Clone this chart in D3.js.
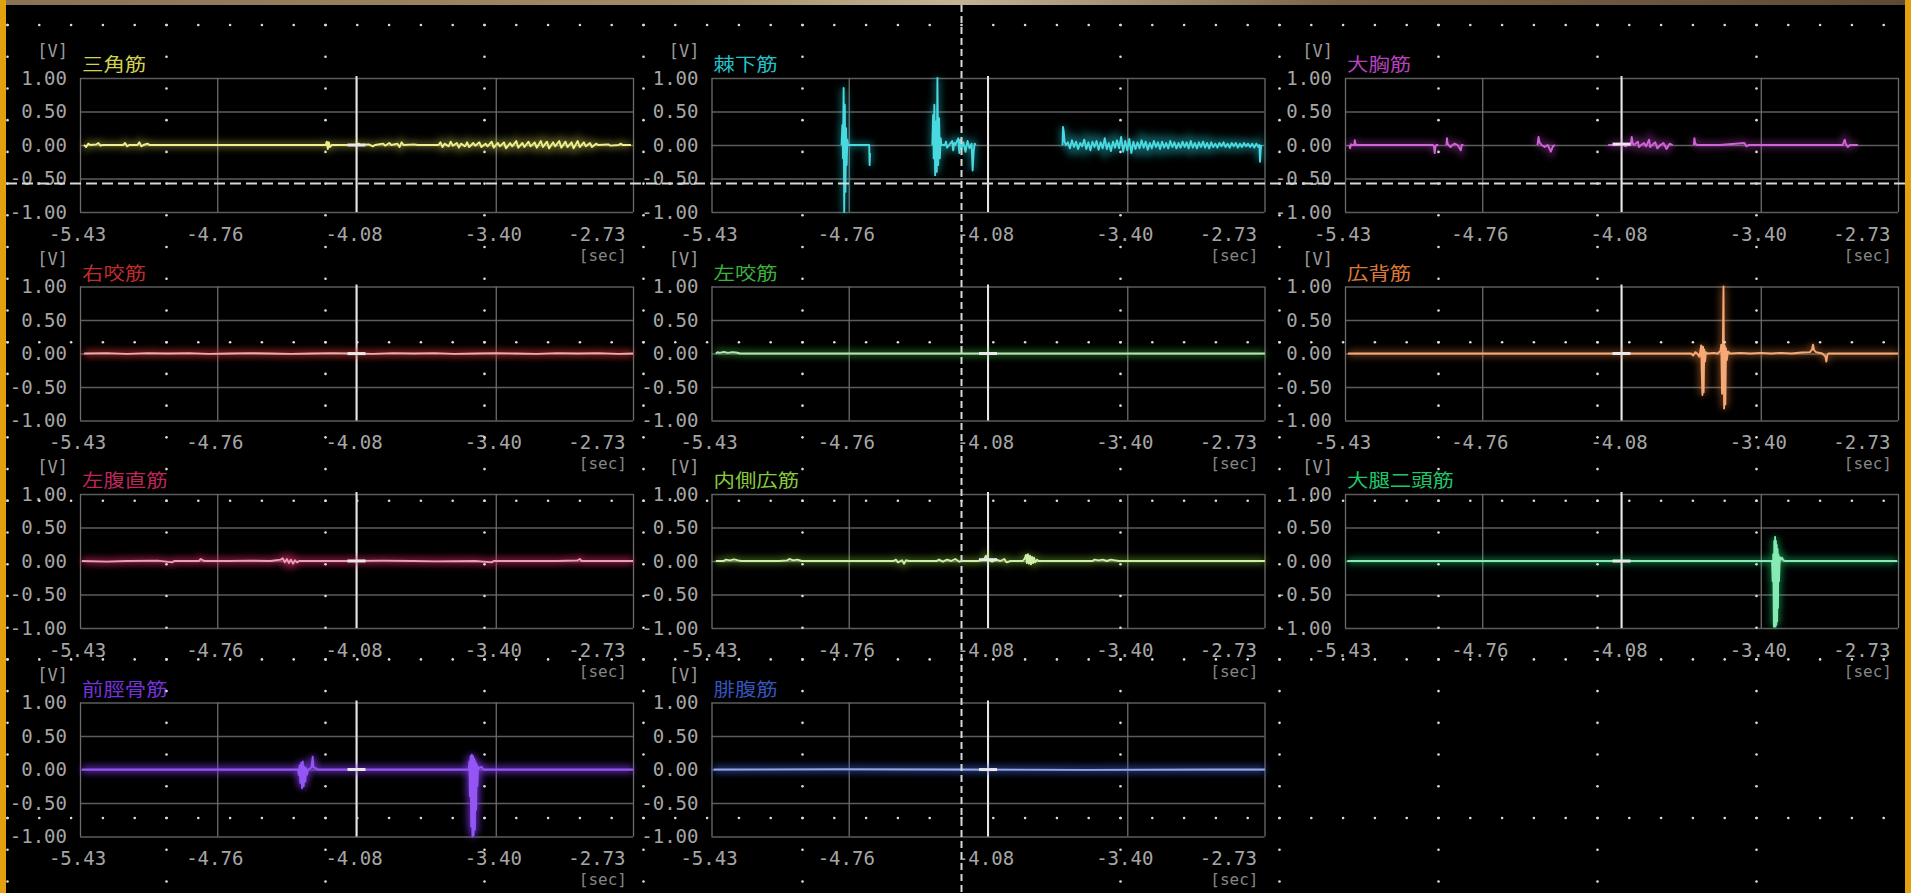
<!DOCTYPE html>
<html>
<head>
<meta charset="utf-8">
<script src="https://cdn.jsdelivr.net/npm/d3@7"></script>
<style>
  html, body { margin: 0; padding: 0; background: #000; overflow: hidden; }
  svg { display: block; }
</style>
</head>
<body>
<svg id="scope" width="1911" height="893"></svg>
<script>
// ---- channels (screen order, row by row) ----
const channels = ["三角筋", "棘下筋", "大胸筋", "右咬筋", "左咬筋", "広背筋",
                  "左腹直筋", "内側広筋", "大腿二頭筋", "前脛骨筋", "腓腹筋"];

// ---- axis ticks ----
const timeTicks = [-5.43, -4.76, -4.08, -3.40, -2.73];
const voltTicks = [1.00, 0.50, 0.00, -0.50, -1.00];
const cursorTime = -4.08;

// ---- EMG traces: [time (s), voltage (V)], null = no signal recorded ----
const deltoid = [
  [-5.41,0],[-5.40,-0.03],[-5.39,0.02],[-5.38,0],[-5.35,0.01],[-5.34,0.03],[-5.33,-0.01],[-5.32,0],
  [-5.22,0],[-5.21,0.03],[-5.20,-0.02],[-5.19,0],[-5.15,0],[-5.14,0.04],[-5.13,-0.02],[-5.12,0],
  [-5.10,0.02],[-5.09,0],[-4.60,0],[-4.23,0],[-4.225,0.05],[-4.22,-0.06],[-4.215,0.04],[-4.21,-0.03],
  [-4.20,0],[-4.08,0],[-4.07,0.02],[-4.06,0],[-4.02,0.01],[-4.00,-0.02],[-3.99,0],[-3.95,0.02],
  [-3.94,-0.01],[-3.92,0.03],[-3.91,0],[-3.88,0.02],[-3.87,-0.03],[-3.86,0.04],[-3.85,0],[-3.80,0.01],
  [-3.78,0],[-3.68,0],[-3.67,0.04],[-3.66,-0.03],[-3.65,0.02],[-3.63,-0.02],[-3.62,0.05],[-3.61,-0.01],
  [-3.59,0.03],[-3.58,-0.04],[-3.57,0.02],[-3.55,-0.02],[-3.54,0.04],[-3.53,-0.03],[-3.51,0.03],
  [-3.50,-0.01],[-3.48,0.04],[-3.47,-0.03],[-3.45,0.02],[-3.44,-0.02],[-3.42,0.05],[-3.41,-0.04],
  [-3.39,0.03],[-3.38,-0.02],[-3.36,0.04],[-3.35,-0.05],[-3.33,0.03],[-3.32,-0.02],[-3.30,0.06],
  [-3.29,-0.04],[-3.27,0.03],[-3.26,-0.03],[-3.24,0.05],[-3.23,-0.02],[-3.21,0.04],[-3.20,-0.04],
  [-3.18,0.06],[-3.17,-0.03],[-3.15,0.05],[-3.14,-0.05],[-3.12,0.04],[-3.11,-0.02],[-3.09,0.06],
  [-3.08,-0.04],[-3.06,0.05],[-3.05,-0.03],[-3.03,0.04],[-3.02,-0.05],[-3.00,0.06],[-2.99,-0.03],
  [-2.97,0.04],[-2.96,-0.02],[-2.94,0.03],[-2.93,-0.03],[-2.91,0.02],[-2.90,0],[-2.85,0.01],
  [-2.84,-0.01],[-2.80,0],[-2.79,0.02],[-2.78,0],[-2.74,0]
];
const infraspinatus = [
  [-4.795,0],[-4.791,0.3],[-4.788,-0.2],[-4.785,0.85],[-4.782,-1.0],[-4.779,0.6],[-4.776,-0.7],
  [-4.773,0.25],[-4.770,-0.3],[-4.767,0.08],[-4.763,0],[-4.70,0],[-4.660,0],[-4.658,-0.3],
  [-4.656,-0.12],[-4.655,null],
  [-4.352,0],[-4.348,0.45],[-4.345,-0.2],[-4.342,0.6],[-4.338,-0.45],[-4.334,0.35],[-4.330,-0.4],
  [-4.327,1.0],[-4.323,-0.3],[-4.319,0.4],[-4.315,-0.2],[-4.311,0.1],[-4.307,0],[-4.29,0],
  [-4.285,0.05],[-4.28,-0.04],[-4.27,0],[-4.255,0.06],[-4.25,-0.08],[-4.245,0.03],[-4.24,0],
  [-4.225,0.1],[-4.22,-0.12],[-4.215,0.08],[-4.21,-0.05],[-4.20,0.04],[-4.19,-0.1],[-4.18,0.06],
  [-4.17,-0.05],[-4.16,0.02],[-4.155,-0.38],[-4.15,-0.1],[-4.145,0.02],[-4.14,0],[-4.139,null],
  [-3.716,0],[-3.714,0.27],[-3.710,0.2],[-3.706,0.05],[-3.700,0],[-3.69,0.04],[-3.68,-0.05],
  [-3.67,0.07],[-3.66,-0.03],[-3.65,0.05],[-3.64,-0.06],[-3.63,0.03],[-3.62,-0.02],[-3.61,0.08],
  [-3.60,-0.06],[-3.59,0.04],[-3.58,-0.08],[-3.57,0.05],[-3.56,-0.03],[-3.55,0.06],[-3.54,-0.07],
  [-3.53,0.04],[-3.52,-0.05],[-3.51,0.1],[-3.50,-0.06],[-3.49,0.03],[-3.48,-0.09],[-3.47,0.05],
  [-3.46,-0.04],[-3.45,0.07],[-3.44,-0.05],[-3.43,0.12],[-3.42,-0.1],[-3.41,0.06],[-3.40,-0.08],
  [-3.39,0.09],[-3.38,-0.12],[-3.37,0.05],[-3.36,-0.06],[-3.35,0.04],[-3.34,-0.05],[-3.33,0.07],
  [-3.32,-0.04],[-3.31,0.05],[-3.30,-0.07],[-3.29,0.03],[-3.28,-0.05],[-3.27,0.06],[-3.26,-0.03],
  [-3.25,0.04],[-3.24,-0.06],[-3.23,0.05],[-3.22,-0.04],[-3.21,0.03],[-3.20,-0.05],[-3.19,0.06],
  [-3.18,-0.03],[-3.17,0.04],[-3.16,-0.05],[-3.15,0.03],[-3.14,-0.04],[-3.13,0.05],[-3.12,-0.03],
  [-3.11,0.04],[-3.10,-0.05],[-3.09,0.06],[-3.08,-0.04],[-3.07,0.03],[-3.06,-0.05],[-3.05,0.04],
  [-3.04,-0.03],[-3.03,0.05],[-3.02,-0.04],[-3.01,0.03],[-3.00,-0.05],[-2.99,0.04],[-2.98,-0.03],
  [-2.97,0.02],[-2.96,-0.04],[-2.95,0.03],[-2.94,-0.02],[-2.93,0.04],[-2.92,-0.03],[-2.91,0.02],
  [-2.90,-0.04],[-2.89,0.03],[-2.88,-0.02],[-2.87,0.03],[-2.86,-0.04],[-2.85,0.02],[-2.84,-0.03],
  [-2.83,0.03],[-2.82,-0.02],[-2.81,0.02],[-2.80,-0.03],[-2.79,0.02],[-2.78,-0.04],[-2.77,0.02],
  [-2.76,-0.03],[-2.755,0],[-2.752,-0.25],[-2.749,-0.1],[-2.746,0]
];
const pectoralis = [
  [-5.409,0],[-5.405,-0.05],[-5.401,0.01],[-5.396,0],[-5.385,0],[-5.382,0.07],[-5.379,0.02],
  [-5.376,0],[-5.20,0],[-5.00,0],[-4.996,-0.02],[-4.992,-0.12],[-4.988,-0.02],[-4.984,0],
  [-4.975,0],[-4.97,null],
  [-4.935,0],[-4.932,0.1],[-4.929,0.02],[-4.924,0],[-4.915,-0.03],[-4.905,0],[-4.895,0.02],
  [-4.88,0],[-4.865,-0.08],[-4.86,0],[-4.852,0],[-4.85,null],
  [-4.49,0],[-4.485,0.12],[-4.48,0.04],[-4.47,0],[-4.455,-0.03],[-4.44,0],[-4.425,-0.1],
  [-4.415,-0.02],[-4.405,0],[-4.40,null],
  [-4.145,0],[-4.10,0],[-4.085,0.02],[-4.07,0],[-4.06,-0.02],[-4.05,0],[-4.035,0],[-4.03,0.12],
  [-4.025,0.02],[-4.02,0],[-4.00,0.05],[-3.995,-0.03],[-3.985,0],[-3.97,0.03],[-3.96,-0.02],
  [-3.945,0.08],[-3.94,-0.03],[-3.93,0],[-3.915,0.04],[-3.905,-0.05],[-3.89,0],[-3.875,0.03],
  [-3.86,-0.06],[-3.845,0.02],[-3.83,0],[-3.825,null],
  [-3.727,0],[-3.724,0.1],[-3.72,0.02],[-3.71,0],[-3.60,0],[-3.48,0.03],[-3.47,-0.02],[-3.46,0],
  [-3.30,0],[-3.10,0],[-3.00,0],[-2.995,0.04],[-2.99,0.08],[-2.985,0.02],[-2.975,-0.03],
  [-2.965,0],[-2.926,0]
];
const rightMasseter = [
  [-5.41,0],[-5.30,0.005],[-5.20,-0.005],[-5.10,0.005],[-5.00,0],[-4.90,0.005],[-4.80,-0.005],
  [-4.70,0],[-4.60,0.005],[-4.50,0],[-4.40,-0.005],[-4.30,0],[-4.20,0.005],[-4.10,0],[-4.00,-0.005],
  [-3.90,0.005],[-3.80,0],[-3.70,0.005],[-3.60,-0.005],[-3.50,0],[-3.40,0.005],[-3.30,0],
  [-3.20,-0.005],[-3.10,0.005],[-3.00,0],[-2.90,0.005],[-2.80,-0.005],[-2.73,0]
];
const leftMasseter = [
  [-5.409,0],[-5.40,0.02],[-5.39,0.01],[-5.37,0.025],[-5.35,0.01],[-5.33,0.02],[-5.31,0.015],
  [-5.29,0],[-5.00,0],[-4.60,0],[-4.20,0],[-3.80,0],[-3.40,0],[-3.00,0],[-2.728,0]
];
const latissimus = [
  [-5.415,0],[-4.50,0],[-3.74,0],[-3.73,-0.03],[-3.72,0.02],[-3.71,0],[-3.70,-0.05],[-3.695,0.04],
  [-3.691,0.12],[-3.688,-0.3],[-3.685,-0.62],[-3.682,0.1],[-3.679,-0.58],[-3.676,0.06],
  [-3.672,-0.12],[-3.668,0.02],[-3.66,0],[-3.63,0.01],[-3.61,0],[-3.597,0.04],[-3.593,0.13],
  [-3.589,-0.6],[-3.585,0.1],[-3.582,1.0],[-3.579,-0.82],[-3.576,0.12],[-3.573,-0.76],
  [-3.570,0.08],[-3.566,-0.1],[-3.56,0.03],[-3.55,0],[-3.50,0.01],[-3.45,0],[-3.40,0.01],
  [-3.35,0],[-3.30,0.01],[-3.25,0],[-3.20,0.015],[-3.16,0.02],[-3.15,0.06],[-3.145,0.13],
  [-3.14,0.05],[-3.13,0.02],[-3.10,0],[-3.085,-0.04],[-3.08,-0.12],[-3.075,-0.02],[-3.07,0],
  [-2.90,0],[-2.73,0]
];
const leftRectusAbdominis = [
  [-5.42,0],[-5.30,-0.01],[-5.20,0],[-5.05,0.005],[-4.98,-0.02],[-4.97,0],[-4.85,0],[-4.84,0.03],
  [-4.83,0.01],[-4.82,0],[-4.70,0],[-4.60,0.005],[-4.50,0],[-4.45,0.02],[-4.44,0.04],[-4.43,-0.02],
  [-4.42,0.03],[-4.41,-0.03],[-4.40,0.02],[-4.39,-0.04],[-4.38,0.01],[-4.37,-0.02],[-4.36,0],
  [-4.20,0],[-4.10,0],[-3.95,0.005],[-3.80,0],[-3.70,-0.005],[-3.50,0],[-3.42,-0.02],[-3.41,0],
  [-3.30,0],[-3.10,0],[-3.00,0.01],[-2.99,0.03],[-2.98,0],[-2.85,0],[-2.73,0]
];
const vastusMedialis = [
  [-5.409,0],[-5.37,0],[-5.36,0.02],[-5.34,0.01],[-5.32,0.025],[-5.30,0.01],[-5.285,0],[-5.10,0],
  [-5.06,0.01],[-5.05,0.03],[-5.03,0.01],[-5.01,0.02],[-4.99,0],[-4.80,0],[-4.54,0],[-4.53,0.02],
  [-4.52,-0.02],[-4.50,0.01],[-4.49,-0.04],[-4.48,0.01],[-4.465,0],[-4.33,0],[-4.32,0.02],
  [-4.30,-0.01],[-4.28,0.02],[-4.26,0],[-4.24,0.03],[-4.22,-0.01],[-4.21,0],[-4.13,0],[-4.10,0.02],
  [-4.09,0.08],[-4.08,0.02],[-4.06,-0.01],[-4.04,0.02],[-4.02,0],[-4.00,0.03],[-3.99,-0.02],
  [-3.97,0],[-3.91,0],[-3.90,0.04],[-3.895,0.09],[-3.89,-0.03],[-3.885,0.1],[-3.88,-0.04],
  [-3.875,0.08],[-3.87,-0.05],[-3.865,0.06],[-3.86,-0.03],[-3.855,0.05],[-3.85,-0.02],[-3.84,0.02],
  [-3.835,0],[-3.70,0],[-3.57,0],[-3.56,0.02],[-3.54,0.01],[-3.52,0.02],[-3.50,0],[-3.48,0.02],
  [-3.46,0.01],[-3.44,0],[-3.20,0],[-2.728,0]
];
const bicepsFemoris = [
  [-5.419,0],[-4.50,0],[-3.50,0],[-3.345,0],[-3.342,-0.3],[-3.339,0.1],[-3.336,-0.98],[-3.334,0.3],
  [-3.332,-0.96],[-3.330,0.36],[-3.328,-0.98],[-3.326,0.3],[-3.324,-0.95],[-3.322,0.24],
  [-3.320,-0.9],[-3.318,0.18],[-3.316,-0.7],[-3.314,0.1],[-3.311,-0.3],[-3.307,0.06],[-3.302,0.02],
  [-3.296,0.05],[-3.29,0.01],[-3.28,0],[-3.00,0],[-2.734,0]
];
const tibialisAnterior = [
  [-5.42,0],[-5.00,0],[-4.60,0],[-4.365,0],[-4.362,-0.08],[-4.358,0.06],[-4.354,-0.2],[-4.350,0.1],
  [-4.346,-0.28],[-4.342,0.12],[-4.338,-0.25],[-4.334,0.04],[-4.330,-0.18],[-4.326,0.02],
  [-4.322,-0.08],[-4.316,0],[-4.300,0.03],[-4.294,0.19],[-4.290,0.03],[-4.28,0.02],[-4.27,0],
  [-4.00,0],[-3.70,0],[-3.532,0],[-3.529,0.12],[-3.526,-0.4],[-3.523,0.2],[-3.520,-0.85],
  [-3.517,0.22],[-3.514,-1.0],[-3.511,0.2],[-3.508,-0.98],[-3.505,0.16],[-3.502,-0.9],
  [-3.499,0.12],[-3.496,-0.6],[-3.493,0.08],[-3.490,-0.25],[-3.486,0.04],[-3.48,0.02],
  [-3.47,0.04],[-3.46,0],[-3.20,0],[-2.73,0]
];
const gastrocnemius = [
  [-5.42,0],[-4.80,0.005],[-4.20,0],[-3.60,-0.005],[-3.00,0],[-2.728,0]
];
const traces = [deltoid, infraspinatus, pectoralis, rightMasseter, leftMasseter, latissimus,
                leftRectusAbdominis, vastusMedialis, bicepsFemoris, tibialisAnterior, gastrocnemius];

// ---- per-channel ink ----
const inkColors = ["#e6e65a", "#28d2dc", "#c848d0", "#d03030", "#40c040", "#f0843c",
                   "#d02a62", "#94dc40", "#22d874", "#8038f0", "#3c5cd0"];
const coreWhiten = [0.3, 0.15, 0.15, 0.6, 0.6, 0.3, 0.55, 0.55, 0.45, 0.15, 0.45];
const haloAlpha  = [0.4, 0.4, 0.4, 0.75, 0.5, 0.45, 0.75, 0.45, 0.5, 0.8, 0.7];

// ---- layout ----
const W = 1911, H = 893;
const plotW = 553, plotH = 134;
const colX = [80, 711.5, 1345];
const rowY = [78, 286.5, 494, 702.5];
const monoFont = "'DejaVu Sans Mono','Liberation Mono',monospace";
const cjkFont = "'Noto Sans CJK JP','Noto Sans CJK SC',sans-serif";

const svg = d3.select("#scope");
svg.append("rect").attr("width", W).attr("height", H).attr("fill", "#000");

const defs = svg.append("defs");
defs.append("filter").attr("id", "glow")
  .attr("filterUnits", "userSpaceOnUse")
  .attr("x", -30).attr("y", -30).attr("width", plotW + 60).attr("height", plotH + 60)
  .append("feGaussianBlur").attr("stdDeviation", 3.5);

const x = d3.scaleLinear().domain([timeTicks[0], timeTicks[timeTicks.length - 1]]).range([0, plotW]);
const y = d3.scaleLinear().domain([-1, 1]).range([plotH, 0]);
const line = d3.line()
  .defined(d => d[1] !== null)
  .x(d => x(d[0]))
  .y(d => y(d[1]));

function styleText(sel, size, fill) {
  sel.style("font-family", monoFont).style("font-size", size + "px").attr("fill", fill);
}

channels.forEach((name, i) => {
  const col = i % 3, row = Math.floor(i / 3);
  const g = svg.append("g").attr("transform", `translate(${colX[col]},${rowY[row]})`);
  const data = traces[i];
  const ink = inkColors[i];

  // horizontal grid
  const hg = g.append("g").call(d3.axisLeft(y).tickValues(voltTicks).tickSize(-plotW).tickFormat(""));
  hg.select(".domain").remove();
  hg.selectAll("line").attr("stroke", "#5c5c5c").attr("stroke-width", 1.6);

  // vertical grid
  const vg = g.append("g").attr("transform", `translate(0,${plotH})`)
    .call(d3.axisBottom(x).tickValues(timeTicks).tickSize(-plotH).tickFormat(""));
  vg.select(".domain").remove();
  vg.selectAll("line").attr("stroke", "#6c6c6c").attr("stroke-width", 1.3);

  // time cursor
  g.append("line")
    .attr("x1", x(cursorTime)).attr("x2", x(cursorTime))
    .attr("y1", -2).attr("y2", plotH)
    .attr("stroke", "#e6e6e6").attr("stroke-width", 2);

  // trace: soft halo + core
  g.append("path").datum(data).attr("d", line)
    .attr("fill", "none").attr("stroke", ink).attr("stroke-width", 6)
    .attr("stroke-opacity", haloAlpha[i]).attr("filter", "url(#glow)");
  g.append("path").datum(data).attr("d", line)
    .attr("fill", "none").attr("stroke", d3.interpolateRgb(ink, "#ffffff")(coreWhiten[i]))
    .attr("stroke-width", 1.9).attr("stroke-linejoin", "round");

  // cursor read-out mark where the trace exists at the cursor time
  for (let k = 0; k < data.length - 1; k++) {
    const a = data[k], b = data[k + 1];
    if (a[1] !== null && b[1] !== null && a[0] <= cursorTime && b[0] >= cursorTime) {
      const v = a[1] + (b[1] - a[1]) * (cursorTime - a[0]) / (b[0] - a[0] || 1);
      g.append("rect")
        .attr("x", x(cursorTime) - 9).attr("y", y(v) - 1.5)
        .attr("width", 18).attr("height", 3).attr("fill", "#e8e8e8");
      break;
    }
  }

  // voltage labels
  const ya = g.append("g").call(d3.axisLeft(y).tickValues(voltTicks).tickSize(0).tickPadding(13)
    .tickFormat(v => v.toFixed(2)));
  ya.select(".domain").remove();
  styleText(ya.selectAll("text"), 19, "#a6a6a6");

  // time labels
  const xa = g.append("g").attr("transform", `translate(0,${plotH})`)
    .call(d3.axisBottom(x).tickValues(timeTicks).tickSize(0).tickFormat(v => v.toFixed(2)));
  xa.select(".domain").remove();
  const xt = xa.selectAll("text").attr("y", 22).attr("dy", "0.35em").attr("x", -3);
  styleText(xt, 19, "#a6a6a6");
  xt.filter((d, k) => k === timeTicks.length - 1).attr("text-anchor", "end").attr("x", -8);

  // units
  styleText(g.append("text").attr("x", -12).attr("y", -27).attr("dy", "0.35em")
    .attr("text-anchor", "end").text("[V]"), 17, "#9a9a9a");
  styleText(g.append("text").attr("x", plotW - 6).attr("y", plotH + 43).attr("dy", "0.35em")
    .attr("text-anchor", "end").text("[sec]"), 16, "#858585");

  // channel name
  g.append("text")
    .attr("transform", `translate(2,${-13}) scale(1.02,0.85)`)
    .attr("dy", "0.36em")
    .style("font-family", cjkFont).style("font-size", "21px")
    .attr("fill", d3.color(ink).darker(0.25))
    .text(name);
});

// ---- screen graticule: dotted divisions ----
const major = 159, minor = major / 5;
const gx0 = 7.5, gy0 = 25;
const gridCols = d3.range(0, 13);
const gridRows = d3.range(0, 6);
const dashCol = 6, dashRow = 1;
const dots = [];
gridRows.forEach(r => {
  if (r === dashRow) return;
  const yy = gy0 + r * 158.6;
  d3.range(0, 61).forEach(j => dots.push([gx0 + j * minor, yy]));
});
gridCols.forEach(c => {
  if (c === dashCol) return;
  const xx = gx0 + c * major;
  d3.range(0, 28).forEach(j => dots.push([xx, gy0 + j * 31.72]));
});
svg.append("g").selectAll("circle").data(dots).join("circle")
  .attr("cx", d => d[0]).attr("cy", d => d[1]).attr("r", 1.3).attr("fill", "#dcdcdc");

// dashed centre markers
svg.append("line")
  .attr("x1", 6).attr("x2", W - 6).attr("y1", gy0 + dashRow * 158.6).attr("y2", gy0 + dashRow * 158.6)
  .attr("stroke", "#d8d8d8").attr("stroke-width", 2).attr("stroke-dasharray", "11,5");
svg.append("line")
  .attr("x1", gx0 + dashCol * major).attr("x2", gx0 + dashCol * major).attr("y1", 5).attr("y2", H)
  .attr("stroke", "#d8d8d8").attr("stroke-width", 2).attr("stroke-dasharray", "7,4");

// ---- frame ----
const topGrad = defs.append("linearGradient").attr("id", "topStrip");
[["0%", "#8a7355"], ["35%", "#a08a68"], ["50%", "#c4b494"], ["70%", "#7a6448"], ["100%", "#5e4a34"]]
  .forEach(s => topGrad.append("stop").attr("offset", s[0]).attr("stop-color", s[1]));
svg.append("rect").attr("x", 0).attr("y", 0).attr("width", W).attr("height", 5).attr("fill", "url(#topStrip)");
svg.append("rect").attr("x", 0).attr("y", 0).attr("width", 6).attr("height", H).attr("fill", "#e2a00e");
svg.append("rect").attr("x", W - 6).attr("y", 0).attr("width", 6).attr("height", H).attr("fill", "#e2a00e");
</script>
</body>
</html>
